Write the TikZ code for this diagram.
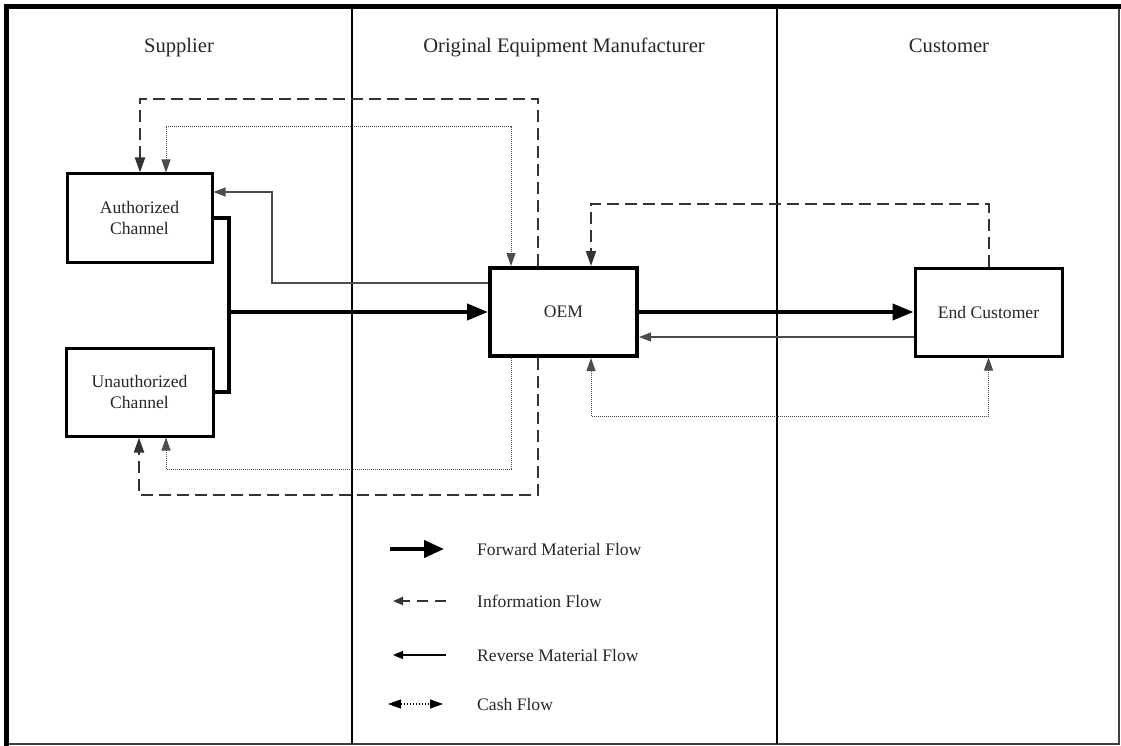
\documentclass[tikz,border=0pt]{standalone}
\usepackage{fontspec}
\setmainfont{Liberation Serif}
\usetikzlibrary{arrows.meta}

\begin{document}
\begin{tikzpicture}[x=1pt,y=-1pt,
  txt/.style={text=black!85, inner sep=0pt},
  lanetitle/.style={txt, font=\fontsize{20.6}{24}\selectfont, anchor=base},
  legendtext/.style={txt, font=\fontsize{17.6}{21}\selectfont, anchor=base west},
  boxnode/.style={draw=black, line width=3pt, minimum width=147pt, minimum height=88pt,
    inner sep=0pt, align=center, text=black!85, font=\fontsize{17.6}{21}\selectfont},
  matline/.style={line width=4pt, black, line join=miter},
  fwdflow/.style={matline, -{Triangle[length=21pt,width=16pt]}},
  revflow/.style={line width=1.1pt, black!70, -{Triangle[length=12pt,width=9pt]}},
  infoflow/.style={line width=2pt, black!80, dash pattern=on 12pt off 6pt,
    -{Triangle[length=15pt,width=10pt]}},
  cashflow/.style={line width=0.9pt, black!70, dash pattern=on 1pt off 1pt,
    -{Triangle[length=13pt,width=9pt]}},
  cashboth/.style={cashflow, {Triangle[length=13pt,width=9pt]}-{Triangle[length=13pt,width=9pt]}}
]
\useasboundingbox (0,0) rectangle (1121,746);

% frame and swim lanes
\draw[black!75, line width=1.5pt] (1119,6.5) -- (1119,744) -- (6.5,744);
\draw[black, line width=4.5pt, line cap=rect] (1119,6.5) -- (6.5,6.5) -- (6.5,744);
\draw[black, line width=1.3pt] (352,7) -- (352,744);
\draw[black, line width=1.3pt] (777,7) -- (777,744);

\node[lanetitle] (tsup) at (179,53) {Supplier};
\node[lanetitle] (toem) at (564,53) {Original Equipment Manufacturer};
\node[lanetitle] (tcus) at (949,53) {Customer};

% actors
\node[boxnode, minimum width=145pt] (auth) at (139.5,218) {Authorized\\Channel};
\node[boxnode] (unauth) at (139.5,392) {Unauthorized\\Channel};
\node[boxnode, line width=4pt] (oem) at (563.5,312) {OEM};
\node[boxnode] (ec) at (988.5,312) {End Customer};

% forward material flow
\coordinate (jn) at (229,312);
\draw[matline] (auth.east) -| (jn) |- (unauth.east);
\draw[fwdflow] (jn) -- (oem.west);
\draw[fwdflow] (oem.east) -- (ec.west);

% reverse material flow
\coordinate (r1) at (272,283);
\coordinate (r2) at (272,192);
\draw[revflow] (r1 -| oem.west) -- (r1) -- (r2) -- (r2 -| auth.east);
\coordinate (r3) at (800,337);
\draw[revflow] (r3 -| ec.west) -- (r3 -| oem.east);

% information flow
\coordinate (d1) at (538,99);
\coordinate (d2) at (140,99);
\draw[infoflow] (d1 |- oem.north) -- (d1) -- (d2) -- (d2 |- auth.north);
\coordinate (d3) at (538,495);
\coordinate (d4) at (139,495);
\draw[infoflow] (d3 |- oem.south) -- (d3) -- (d4) -- (d4 |- unauth.south);
\coordinate (e1) at (988.5,204);
\coordinate (e2) at (591,204);
\draw[infoflow] (ec.north) -- (e1) -- (e2) -- (e2 |- oem.north);

% cash flow
\coordinate (c1) at (511,126);
\coordinate (c2) at (166,126);
\draw[cashboth] (c2 |- auth.north) -- (c2) -- (c1) -- (c1 |- oem.north);
\coordinate (c3) at (511,469);
\coordinate (c4) at (166,469);
\draw[cashflow] (c3 |- oem.south) -- (c3) -- (c4) -- (c4 |- unauth.south);
\coordinate (e3) at (591,416);
\coordinate (e4) at (988.5,416);
\draw[cashboth] (e3 |- oem.south) -- (e3) -- (e4) -- (ec.south);

% legend
\coordinate (l1a) at (390,549);
\coordinate (l1b) at (444,549);
\draw[matline, -{Triangle[length=20pt,width=17pt]}] (l1a) -- (l1b);
\node[legendtext] (lt1) at (477,555) {Forward Material Flow};

\coordinate (l2a) at (446,601);
\coordinate (l2b) at (393,601);
\draw[line width=2pt, black!80, dash pattern=on 11pt off 7pt, -{Triangle[length=10pt,width=8pt]}] (l2a) -- (l2b);
\node[legendtext] (lt2) at (477,607) {Information Flow};

\coordinate (l3a) at (446,655);
\coordinate (l3b) at (393,655);
\draw[line width=1.5pt, black, -{Triangle[length=10pt,width=8pt]}] (l3a) -- (l3b);
\node[legendtext] (lt3) at (477,661) {Reverse Material Flow};

\coordinate (l4a) at (388,704);
\coordinate (l4b) at (443,704);
\draw[line width=1.3pt, black, dash pattern=on 1.5pt off 1.5pt,
  {Triangle[length=13pt,width=9pt]}-{Triangle[length=13pt,width=9pt]}] (l4a) -- (l4b);
\node[legendtext] (lt4) at (477,710) {Cash Flow};
\end{tikzpicture}
\end{document}
